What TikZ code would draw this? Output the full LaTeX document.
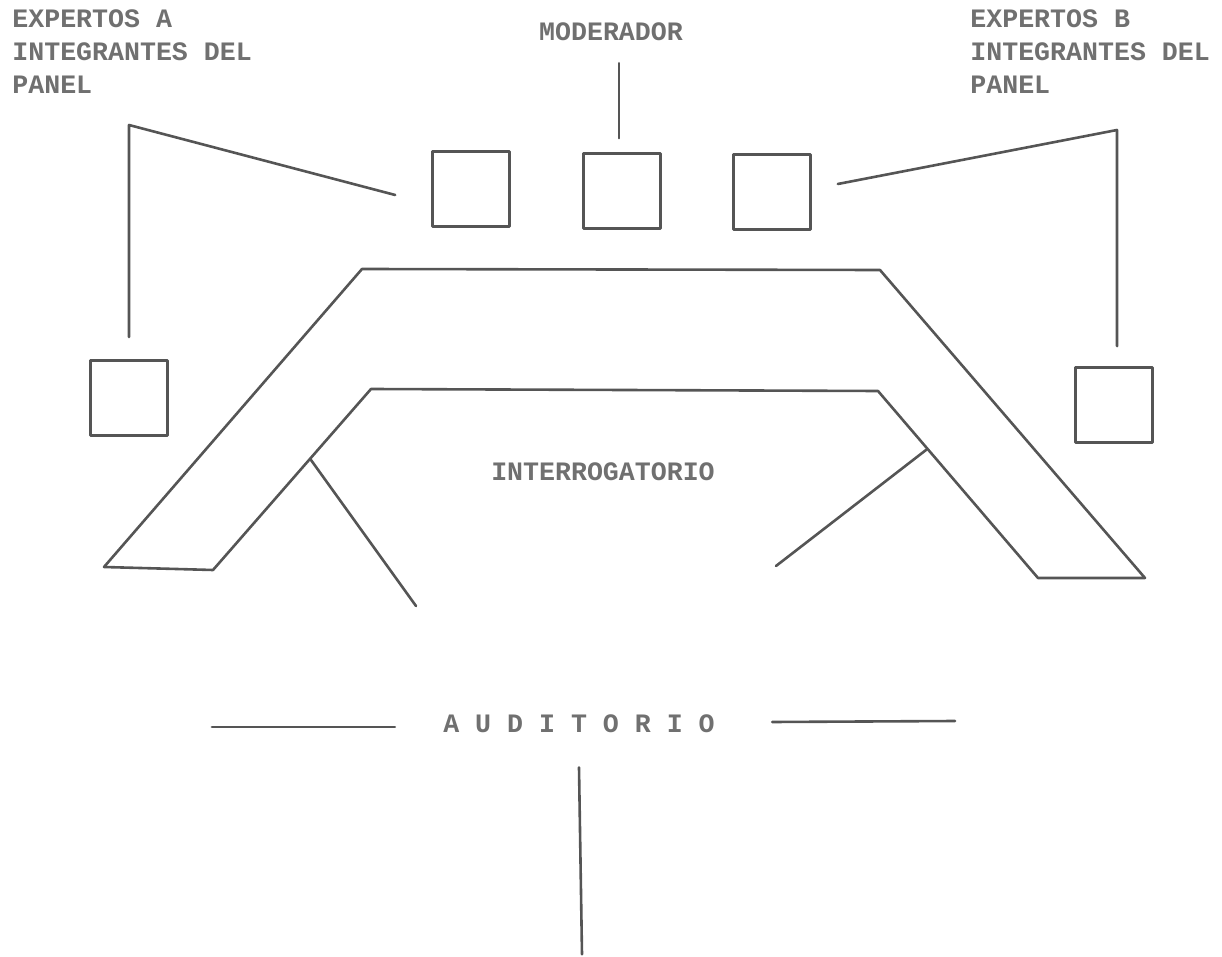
\documentclass[tikz,border=0pt]{standalone}
\usepackage{fontspec}
\setmonofont{Liberation Mono}
\definecolor{tinta}{HTML}{555555}
\definecolor{letra}{HTML}{707070}
\begin{document}
\begin{tikzpicture}[
    x=0.5pt, y=-0.5pt,
    trazo/.style={draw=tinta, line width=1.3pt, line cap=round, line join=round},
    silla/.style={trazo, minimum width=38.5pt, minimum height=37.5pt, inner sep=0pt},
    rotulo/.style={text=letra, inner sep=0pt,
        font=\ttfamily\bfseries\fontsize{13.3}{16.5}\selectfont}
]
\useasboundingbox (0,0) rectangle (1222,957);

% Rotulos
\node[rotulo, anchor=north west, align=left] (expA) at (12,9) {EXPERTOS A\\INTEGRANTES DEL\\PANEL};
\node[rotulo, anchor=north west, align=left] (expB) at (970,9) {EXPERTOS B\\INTEGRANTES DEL\\PANEL};
\node[rotulo] (moderador) at (611,32) {MODERADOR};
\node[rotulo] (interrogatorio) at (603,472) {INTERROGATORIO};
\node[rotulo] (auditorio) at (579,724) {A U D I T O R I O};

% Sillas del panel
\node[silla] (s1) at (471,189) {};
\node[silla] (s2) at (622,191) {};
\node[silla] (s3) at (772,192) {};
\node[silla] (sA) at (129,398) {};
\node[silla] (sB) at (1114,405) {};

% Llamadas
\coordinate (codoA) at (129,125);
\coordinate (codoB) at (1117,130);
\draw[trazo] ([xshift=-18pt,yshift=-3pt]s1.west) -- (codoA) -- ([yshift=11pt]sA.north);
\draw[trazo] ([xshift=13pt,yshift=4pt]s3.east) -- (codoB) -- ([xshift=1.5pt,yshift=10pt]sB.north);
\draw[trazo] ([xshift=-1.5pt,yshift=7pt]s2.north) -- ++(0,-75);

% Mesa
\draw[trazo] (104,567) -- (362,269) -- (880,270) -- (1145,578) -- (1038,578)
    -- (878,391) -- (371,389) -- (213,570) -- cycle;

% Pasillos
\coordinate (pasilloA) at (311,460);
\coordinate (pasilloB) at (926,450);
\draw[trazo] (pasilloA) -- (416,606);
\draw[trazo] (pasilloB) -- (776,566);

% Auditorio
\draw[trazo] ([xshift=-24pt,yshift=-1.5pt]auditorio.west) -- ++(-183,0);
\draw[trazo] ([xshift=28.5pt,yshift=1pt]auditorio.east) -- ++(183,-1);
\draw[trazo] ([yshift=-17pt]auditorio.south) -- ++(3,187);

\end{tikzpicture}
\end{document}
